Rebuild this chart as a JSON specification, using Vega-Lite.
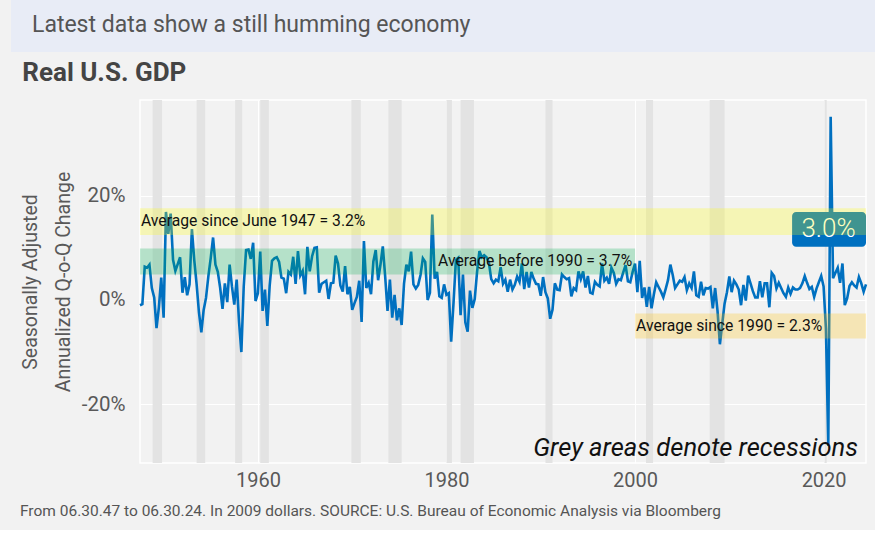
{
  "$schema": "https://vega.github.io/schema/vega-lite/v6.json",
  "background": "#f2f2f2",
  "padding": {"left": 11, "right": 0, "top": 0, "bottom": 10},
  "spacing": 7,
  "title": {"text": "From 06.30.47 to 06.30.24. In 2009 dollars. SOURCE: U.S. Bureau of Economic Analysis via Bloomberg", "orient": "bottom", "anchor": "start", "frame": "bounds", "offset": 13, "dx": 9, "fontSize": 15.5, "fontWeight": "normal", "color": "#555555", "font": "Roboto"},
  "config": {"font": "Roboto", "view": {"stroke": null}},
  "datasets": {
    "recessions": [
      {"date": "1948-11-01", "end": "1949-10-31"},
      {"date": "1953-07-01", "end": "1954-05-31"},
      {"date": "1957-08-01", "end": "1958-04-30"},
      {"date": "1960-04-01", "end": "1961-02-28"},
      {"date": "1969-12-01", "end": "1970-11-30"},
      {"date": "1973-11-01", "end": "1975-03-31"},
      {"date": "1980-01-01", "end": "1980-07-31"},
      {"date": "1981-07-01", "end": "1982-11-30"},
      {"date": "1990-07-01", "end": "1991-03-31"},
      {"date": "2001-03-01", "end": "2001-11-30"},
      {"date": "2007-12-01", "end": "2009-06-30"},
      {"date": "2020-02-01", "end": "2020-04-30"}
    ],
    "bands": [
      {"band": "since1947", "date": "1947-06-30", "end": "2024-06-30", "value": 12.5, "value2": 17.6},
      {"band": "before1990", "date": "1947-06-30", "end": "2000-01-01", "value": 4.9, "value2": 9.9},
      {"band": "since1990", "date": "2000-01-01", "end": "2024-06-30", "value": -7.4, "value2": -2.6}
    ],
    "bandlabels": [
      {"label": "Average since June 1947 = 3.2%", "date": "1947-06-30", "value": 15.2},
      {"label": "Average before 1990 = 3.7%", "date": "1979-01-01", "value": 7.5},
      {"label": "Average since 1990 = 2.3%", "date": "2000-01-01", "value": -5.0}
    ],
    "latestbox": [{"date": "2016-08-28", "end": "2024-06-30", "value": 10.2, "value2": 16.9}],
    "latestlabel": [{"date": "2020-07-10", "value": 13.6, "label": "3.0%"}],
    "note": [{"date": "2024-06-30", "value": -30, "label": "Grey areas denote recessions"}],
    "gdp": [
      {"date": "1947-06-30", "value": -1.0}, {"date": "1947-09-30", "value": -0.8}, {"date": "1947-12-31", "value": 6.4},
      {"date": "1948-03-31", "value": 6.2}, {"date": "1948-06-30", "value": 6.8}, {"date": "1948-09-30", "value": 2.3}, {"date": "1948-12-31", "value": 0.5},
      {"date": "1949-03-31", "value": -5.4}, {"date": "1949-06-30", "value": -1.4}, {"date": "1949-09-30", "value": 4.3}, {"date": "1949-12-31", "value": -3.4},
      {"date": "1950-03-31", "value": 16.9}, {"date": "1950-06-30", "value": 12.7}, {"date": "1950-09-30", "value": 16.6}, {"date": "1950-12-31", "value": 7.7},
      {"date": "1951-03-31", "value": 5.6}, {"date": "1951-06-30", "value": 6.9}, {"date": "1951-09-30", "value": 8.2}, {"date": "1951-12-31", "value": 1.4},
      {"date": "1952-03-31", "value": 4.4}, {"date": "1952-06-30", "value": 0.9}, {"date": "1952-09-30", "value": 3.0}, {"date": "1952-12-31", "value": 13.6},
      {"date": "1953-03-31", "value": 7.7}, {"date": "1953-06-30", "value": 3.1}, {"date": "1953-09-30", "value": -2.4}, {"date": "1953-12-31", "value": -6.2},
      {"date": "1954-03-31", "value": -1.9}, {"date": "1954-06-30", "value": 0.4}, {"date": "1954-09-30", "value": 4.6}, {"date": "1954-12-31", "value": 8.1},
      {"date": "1955-03-31", "value": 12.0}, {"date": "1955-06-30", "value": 6.8}, {"date": "1955-09-30", "value": 5.4}, {"date": "1955-12-31", "value": 2.3},
      {"date": "1956-03-31", "value": -1.7}, {"date": "1956-06-30", "value": 3.2}, {"date": "1956-09-30", "value": -0.4}, {"date": "1956-12-31", "value": 6.8},
      {"date": "1957-03-31", "value": 2.6}, {"date": "1957-06-30", "value": -0.9}, {"date": "1957-09-30", "value": 3.9}, {"date": "1957-12-31", "value": -4.2},
      {"date": "1958-03-31", "value": -10.0}, {"date": "1958-06-30", "value": 2.6}, {"date": "1958-09-30", "value": 9.6}, {"date": "1958-12-31", "value": 9.7},
      {"date": "1959-03-31", "value": 7.9}, {"date": "1959-06-30", "value": 11.0}, {"date": "1959-09-30", "value": -0.2}, {"date": "1959-12-31", "value": 1.3},
      {"date": "1960-03-31", "value": 9.3}, {"date": "1960-06-30", "value": -2.1}, {"date": "1960-09-30", "value": 2.0}, {"date": "1960-12-31", "value": -5.0},
      {"date": "1961-03-31", "value": 2.7}, {"date": "1961-06-30", "value": 7.5}, {"date": "1961-09-30", "value": 8.0}, {"date": "1961-12-31", "value": 8.2},
      {"date": "1962-03-31", "value": 7.3}, {"date": "1962-06-30", "value": 4.3}, {"date": "1962-09-30", "value": 4.1}, {"date": "1962-12-31", "value": 1.3},
      {"date": "1963-03-31", "value": 5.4}, {"date": "1963-06-30", "value": 4.9}, {"date": "1963-09-30", "value": 8.3}, {"date": "1963-12-31", "value": 3.1},
      {"date": "1964-03-31", "value": 9.4}, {"date": "1964-06-30", "value": 4.7}, {"date": "1964-09-30", "value": 5.6}, {"date": "1964-12-31", "value": 1.1},
      {"date": "1965-03-31", "value": 10.2}, {"date": "1965-06-30", "value": 5.5}, {"date": "1965-09-30", "value": 8.4}, {"date": "1965-12-31", "value": 10.0},
      {"date": "1966-03-31", "value": 10.1}, {"date": "1966-06-30", "value": 1.4}, {"date": "1966-09-30", "value": 3.1}, {"date": "1966-12-31", "value": 3.4},
      {"date": "1967-03-31", "value": 3.7}, {"date": "1967-06-30", "value": 0.2}, {"date": "1967-09-30", "value": 3.2}, {"date": "1967-12-31", "value": 3.3},
      {"date": "1968-03-31", "value": 8.5}, {"date": "1968-06-30", "value": 7.0}, {"date": "1968-09-30", "value": 2.8}, {"date": "1968-12-31", "value": 1.6},
      {"date": "1969-03-31", "value": 6.5}, {"date": "1969-06-30", "value": 1.1}, {"date": "1969-09-30", "value": 2.5}, {"date": "1969-12-31", "value": -1.9},
      {"date": "1970-03-31", "value": -0.6}, {"date": "1970-06-30", "value": 0.6}, {"date": "1970-09-30", "value": 3.7}, {"date": "1970-12-31", "value": -4.2},
      {"date": "1971-03-31", "value": 11.3}, {"date": "1971-06-30", "value": 2.3}, {"date": "1971-09-30", "value": 3.3}, {"date": "1971-12-31", "value": 1.1},
      {"date": "1972-03-31", "value": 7.4}, {"date": "1972-06-30", "value": 9.6}, {"date": "1972-09-30", "value": 3.8}, {"date": "1972-12-31", "value": 6.8},
      {"date": "1973-03-31", "value": 10.3}, {"date": "1973-06-30", "value": 4.6}, {"date": "1973-09-30", "value": -2.1}, {"date": "1973-12-31", "value": 3.9},
      {"date": "1974-03-31", "value": -3.4}, {"date": "1974-06-30", "value": 1.0}, {"date": "1974-09-30", "value": -3.9}, {"date": "1974-12-31", "value": -1.6},
      {"date": "1975-03-31", "value": -4.8}, {"date": "1975-06-30", "value": 3.1}, {"date": "1975-09-30", "value": 6.8}, {"date": "1975-12-31", "value": 5.5},
      {"date": "1976-03-31", "value": 9.3}, {"date": "1976-06-30", "value": 3.0}, {"date": "1976-09-30", "value": 2.2}, {"date": "1976-12-31", "value": 2.9},
      {"date": "1977-03-31", "value": 4.8}, {"date": "1977-06-30", "value": 8.0}, {"date": "1977-09-30", "value": 7.3}, {"date": "1977-12-31", "value": 0.0},
      {"date": "1978-03-31", "value": 1.4}, {"date": "1978-06-30", "value": 16.4}, {"date": "1978-09-30", "value": 4.1}, {"date": "1978-12-31", "value": 5.4},
      {"date": "1979-03-31", "value": 0.7}, {"date": "1979-06-30", "value": 0.4}, {"date": "1979-09-30", "value": 3.0}, {"date": "1979-12-31", "value": 1.0},
      {"date": "1980-03-31", "value": 1.3}, {"date": "1980-06-30", "value": -8.0}, {"date": "1980-09-30", "value": -0.5}, {"date": "1980-12-31", "value": 7.7},
      {"date": "1981-03-31", "value": 8.1}, {"date": "1981-06-30", "value": -2.9}, {"date": "1981-09-30", "value": 4.9}, {"date": "1981-12-31", "value": -4.3},
      {"date": "1982-03-31", "value": -6.1}, {"date": "1982-06-30", "value": 1.8}, {"date": "1982-09-30", "value": -1.5}, {"date": "1982-12-31", "value": 0.2},
      {"date": "1983-03-31", "value": 5.4}, {"date": "1983-06-30", "value": 9.4}, {"date": "1983-09-30", "value": 8.2}, {"date": "1983-12-31", "value": 8.6},
      {"date": "1984-03-31", "value": 8.2}, {"date": "1984-06-30", "value": 7.2}, {"date": "1984-09-30", "value": 4.0}, {"date": "1984-12-31", "value": 3.2},
      {"date": "1985-03-31", "value": 3.9}, {"date": "1985-06-30", "value": 3.6}, {"date": "1985-09-30", "value": 6.3}, {"date": "1985-12-31", "value": 3.1},
      {"date": "1986-03-31", "value": 3.9}, {"date": "1986-06-30", "value": 1.6}, {"date": "1986-09-30", "value": 3.9}, {"date": "1986-12-31", "value": 2.0},
      {"date": "1987-03-31", "value": 2.9}, {"date": "1987-06-30", "value": 4.5}, {"date": "1987-09-30", "value": 3.5}, {"date": "1987-12-31", "value": 7.0},
      {"date": "1988-03-31", "value": 2.1}, {"date": "1988-06-30", "value": 5.4}, {"date": "1988-09-30", "value": 2.4}, {"date": "1988-12-31", "value": 5.4},
      {"date": "1989-03-31", "value": 4.1}, {"date": "1989-06-30", "value": 3.1}, {"date": "1989-09-30", "value": 3.0}, {"date": "1989-12-31", "value": 0.8},
      {"date": "1990-03-31", "value": 4.4}, {"date": "1990-06-30", "value": 1.5}, {"date": "1990-09-30", "value": 0.3}, {"date": "1990-12-31", "value": -3.6},
      {"date": "1991-03-31", "value": -1.9}, {"date": "1991-06-30", "value": 3.2}, {"date": "1991-09-30", "value": 2.0}, {"date": "1991-12-31", "value": 1.9},
      {"date": "1992-03-31", "value": 4.9}, {"date": "1992-06-30", "value": 4.4}, {"date": "1992-09-30", "value": 4.0}, {"date": "1992-12-31", "value": 4.2},
      {"date": "1993-03-31", "value": 0.7}, {"date": "1993-06-30", "value": 2.3}, {"date": "1993-09-30", "value": 1.9}, {"date": "1993-12-31", "value": 5.5},
      {"date": "1994-03-31", "value": 4.0}, {"date": "1994-06-30", "value": 5.5}, {"date": "1994-09-30", "value": 2.4}, {"date": "1994-12-31", "value": 4.6},
      {"date": "1995-03-31", "value": 1.4}, {"date": "1995-06-30", "value": 1.2}, {"date": "1995-09-30", "value": 3.5}, {"date": "1995-12-31", "value": 2.9},
      {"date": "1996-03-31", "value": 2.6}, {"date": "1996-06-30", "value": 7.0}, {"date": "1996-09-30", "value": 3.7}, {"date": "1996-12-31", "value": 4.3},
      {"date": "1997-03-31", "value": 3.1}, {"date": "1997-06-30", "value": 6.2}, {"date": "1997-09-30", "value": 5.2}, {"date": "1997-12-31", "value": 3.1},
      {"date": "1998-03-31", "value": 4.0}, {"date": "1998-06-30", "value": 3.8}, {"date": "1998-09-30", "value": 5.3}, {"date": "1998-12-31", "value": 6.7},
      {"date": "1999-03-31", "value": 3.6}, {"date": "1999-06-30", "value": 3.4}, {"date": "1999-09-30", "value": 5.4}, {"date": "1999-12-31", "value": 7.0},
      {"date": "2000-03-31", "value": 1.5}, {"date": "2000-06-30", "value": 7.5}, {"date": "2000-09-30", "value": 0.4}, {"date": "2000-12-31", "value": 2.4},
      {"date": "2001-03-31", "value": -1.3}, {"date": "2001-06-30", "value": 2.5}, {"date": "2001-09-30", "value": -1.6}, {"date": "2001-12-31", "value": 1.1},
      {"date": "2002-03-31", "value": 3.4}, {"date": "2002-06-30", "value": 2.5}, {"date": "2002-09-30", "value": 1.6}, {"date": "2002-12-31", "value": 0.5},
      {"date": "2003-03-31", "value": 2.1}, {"date": "2003-06-30", "value": 3.8}, {"date": "2003-09-30", "value": 6.8}, {"date": "2003-12-31", "value": 4.8},
      {"date": "2004-03-31", "value": 2.3}, {"date": "2004-06-30", "value": 3.0}, {"date": "2004-09-30", "value": 3.7}, {"date": "2004-12-31", "value": 3.5},
      {"date": "2005-03-31", "value": 4.4}, {"date": "2005-06-30", "value": 1.9}, {"date": "2005-09-30", "value": 3.2}, {"date": "2005-12-31", "value": 2.3},
      {"date": "2006-03-31", "value": 5.5}, {"date": "2006-06-30", "value": 0.9}, {"date": "2006-09-30", "value": 0.6}, {"date": "2006-12-31", "value": 3.5},
      {"date": "2007-03-31", "value": 0.9}, {"date": "2007-06-30", "value": 2.3}, {"date": "2007-09-30", "value": 2.2}, {"date": "2007-12-31", "value": 2.5},
      {"date": "2008-03-31", "value": -1.6}, {"date": "2008-06-30", "value": 2.3}, {"date": "2008-09-30", "value": -2.1}, {"date": "2008-12-31", "value": -8.5},
      {"date": "2009-03-31", "value": -4.6}, {"date": "2009-06-30", "value": -0.7}, {"date": "2009-09-30", "value": 1.5}, {"date": "2009-12-31", "value": 4.5},
      {"date": "2010-03-31", "value": 1.5}, {"date": "2010-06-30", "value": 3.7}, {"date": "2010-09-30", "value": 3.0}, {"date": "2010-12-31", "value": 2.0},
      {"date": "2011-03-31", "value": -1.0}, {"date": "2011-06-30", "value": 2.9}, {"date": "2011-09-30", "value": -0.1}, {"date": "2011-12-31", "value": 4.7},
      {"date": "2012-03-31", "value": 3.2}, {"date": "2012-06-30", "value": 1.7}, {"date": "2012-09-30", "value": 0.5}, {"date": "2012-12-31", "value": 0.5},
      {"date": "2013-03-31", "value": 3.6}, {"date": "2013-06-30", "value": 0.5}, {"date": "2013-09-30", "value": 3.2}, {"date": "2013-12-31", "value": 3.2},
      {"date": "2014-03-31", "value": -1.4}, {"date": "2014-06-30", "value": 5.2}, {"date": "2014-09-30", "value": 4.6}, {"date": "2014-12-31", "value": 2.2},
      {"date": "2015-03-31", "value": 3.3}, {"date": "2015-06-30", "value": 2.3}, {"date": "2015-09-30", "value": 1.3}, {"date": "2015-12-31", "value": 0.6},
      {"date": "2016-03-31", "value": 2.4}, {"date": "2016-06-30", "value": 1.2}, {"date": "2016-09-30", "value": 2.4}, {"date": "2016-12-31", "value": 2.0},
      {"date": "2017-03-31", "value": 2.0}, {"date": "2017-06-30", "value": 2.3}, {"date": "2017-09-30", "value": 3.2}, {"date": "2017-12-31", "value": 4.6},
      {"date": "2018-03-31", "value": 3.3}, {"date": "2018-06-30", "value": 2.1}, {"date": "2018-09-30", "value": 2.5}, {"date": "2018-12-31", "value": 0.6},
      {"date": "2019-03-31", "value": 2.2}, {"date": "2019-06-30", "value": 3.4}, {"date": "2019-09-30", "value": 4.6}, {"date": "2019-12-31", "value": 2.6},
      {"date": "2020-03-31", "value": -5.5}, {"date": "2020-06-30", "value": -28.0}, {"date": "2020-09-30", "value": 35.2}, {"date": "2020-12-31", "value": 4.2},
      {"date": "2021-03-31", "value": 5.2}, {"date": "2021-06-30", "value": 6.2}, {"date": "2021-09-30", "value": 3.3}, {"date": "2021-12-31", "value": 7.0},
      {"date": "2022-03-31", "value": -1.0}, {"date": "2022-06-30", "value": 0.3}, {"date": "2022-09-30", "value": 2.7}, {"date": "2022-12-31", "value": 3.4},
      {"date": "2023-03-31", "value": 2.8}, {"date": "2023-06-30", "value": 2.4}, {"date": "2023-09-30", "value": 4.4}, {"date": "2023-12-31", "value": 3.2},
      {"date": "2024-03-31", "value": 1.6}, {"date": "2024-06-30", "value": 3.0}
    ]
  },
  "vconcat": [
    {
      "width": 864,
      "height": 52,
      "view": {"fill": "#e8ecf6", "stroke": null},
      "title": {"text": "Latest data show a still humming economy", "anchor": "start", "frame": "group", "orient": "top", "offset": -37, "dx": 21, "fontSize": 23, "fontWeight": "normal", "color": "#555555", "font": "Roboto"},
      "data": {"values": [{"t": ""}]},
      "mark": {"type": "text"},
      "encoding": {"text": {"field": "t"}}
    },
    {
      "spacing": 7,
      "hconcat": [
        {
          "width": 1,
          "height": 363,
          "view": {"stroke": null, "fill": null},
          "data": {"values": [{"t": ""}]},
          "mark": {"type": "text"},
          "encoding": {"text": {"field": "t"}}
        },
        {
          "width": 726,
          "height": 363,
          "view": {"stroke": "#ffffff", "strokeWidth": 1.5},
          "title": {"text": "Real U.S. GDP", "anchor": "start", "frame": "bounds", "fontSize": 26, "fontWeight": "bold", "color": "#444444", "offset": 14, "dx": 2, "font": "Roboto"},
          "encoding": {
            "x": {
              "field": "date",
              "type": "temporal",
              "scale": {"domain": [{"year": 1947, "month": 6, "date": 30}, {"year": 2024, "month": 6, "date": 30}]},
              "axis": {"values": [{"year": 1960}, {"year": 1980}, {"year": 2000}, {"year": 2020}], "format": "%Y", "title": null, "labelFontSize": 20, "labelColor": "#595959", "labelPadding": 7, "labelFlush": false, "ticks": false, "tickSize": 0, "domain": false, "grid": true, "gridColor": "#ffffff", "gridWidth": 1}
            }
          },
          "layer": [
            {
              "data": {"name": "recessions", "format": {"parse": {"date": "date", "end": "date"}}},
              "mark": {"type": "rect", "color": "#e3e3e3"},
              "encoding": {"x2": {"field": "end"}}
            },
            {
              "data": {"name": "gdp", "format": {"parse": {"date": "date"}}},
              "mark": {"type": "line", "color": "#0070c0", "strokeWidth": 2.6},
              "encoding": {
                "y": {
                  "field": "value", "type": "quantitative",
                  "scale": {"domain": [-31.3, 38.4], "nice": false, "zero": false},
                  "axis": {"values": [-20, 0, 20], "labelExpr": "datum.value + '%'", "title": ["Seasonally Adjusted", "Annualized Q-o-Q Change"], "titleFontSize": 19.5, "titleFontWeight": "normal", "titleColor": "#595959", "titleLineHeight": 33, "titlePadding": 8, "labelFontSize": 20.5, "labelColor": "#595959", "labelPadding": 15, "ticks": false, "tickSize": 0, "domain": false, "grid": true, "gridColor": "#ffffff", "gridWidth": 1}
                }
              }
            },
            {
              "data": {"name": "latestbox", "format": {"parse": {"date": "date", "end": "date"}}},
              "mark": {"type": "rect", "color": "#0070c0", "cornerRadius": 4},
              "encoding": {
                "x2": {"field": "end"},
                "y": {"field": "value", "type": "quantitative"},
                "y2": {"field": "value2"}
              }
            },
            {
              "data": {"name": "latestlabel", "format": {"parse": {"date": "date"}}},
              "mark": {"type": "text", "color": "#ffffff", "fontSize": 26, "fontWeight": 300, "align": "center", "baseline": "middle"},
              "encoding": {
                "y": {"field": "value", "type": "quantitative"},
                "text": {"field": "label"}
              }
            },
            {
              "data": {"name": "bands", "format": {"parse": {"date": "date", "end": "date"}}},
              "mark": {"type": "rect", "opacity": 0.25},
              "encoding": {
                "x2": {"field": "end"},
                "y": {"field": "value", "type": "quantitative"},
                "y2": {"field": "value2"},
                "color": {"field": "band", "type": "nominal", "scale": {"domain": ["since1947", "before1990", "since1990"], "range": ["#ffff00", "#00b050", "#ffc000"]}, "legend": null}
              }
            },
            {
              "data": {"name": "bandlabels", "format": {"parse": {"date": "date"}}},
              "mark": {"type": "text", "align": "left", "baseline": "middle", "fontSize": 15.7, "color": "#111111", "dx": 1},
              "encoding": {
                "y": {"field": "value", "type": "quantitative"},
                "text": {"field": "label"}
              }
            },
            {
              "data": {"name": "note", "format": {"parse": {"date": "date"}}},
              "mark": {"type": "text", "align": "right", "baseline": "alphabetic", "fontSize": 25.5, "fontStyle": "italic", "color": "#111111", "dx": -8},
              "encoding": {
                "y": {"field": "value", "type": "quantitative"},
                "text": {"field": "label"}
              }
            }
          ]
        }
      ]
    }
  ]
}
